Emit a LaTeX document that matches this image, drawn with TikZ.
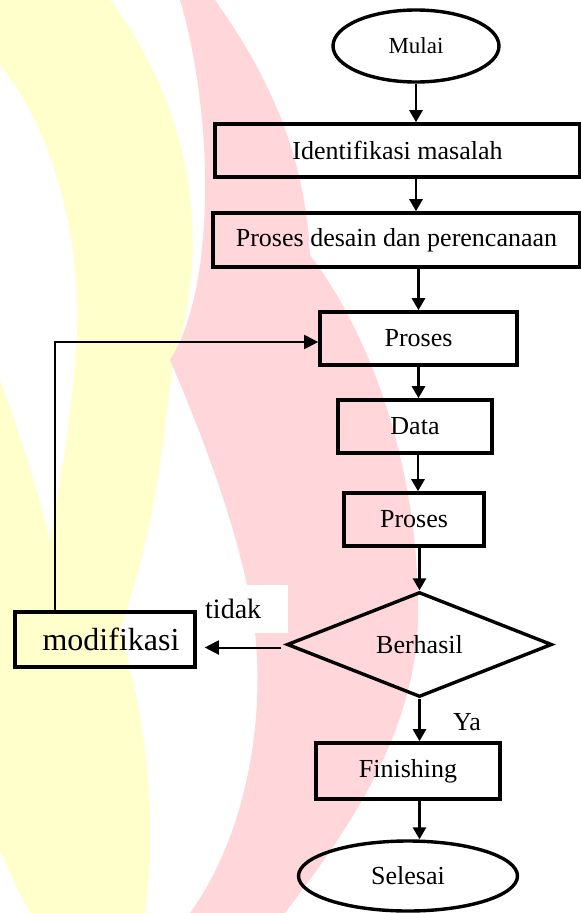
\documentclass[tikz,border=0pt]{standalone}
\usepackage{fontspec}
\setmainfont{Liberation Serif}
\usetikzlibrary{shapes.geometric,arrows.meta,calc}
\definecolor{wmpink}{RGB}{255,215,219}
\definecolor{wmyellow}{RGB}{255,255,204}
\begin{document}
\begin{tikzpicture}[x=1pt,y=-1pt,
  txt/.style={font=\fontsize{26}{30}\selectfont},
  box/.style={draw, rectangle, line width=3.6pt, inner sep=0pt, txt},
  term/.style={draw, ellipse, line width=3.4pt, inner sep=0pt, txt},
  decision/.style={draw, diamond, line width=3.4pt, inner sep=0pt, txt},
  arr/.style={line width=2.7pt, -{Triangle[width=13pt,length=12pt]}},
  thinarr/.style={line width=2pt, -{Triangle[width=14pt,length=14pt]}},
  thinline/.style={line width=2pt}]
\useasboundingbox (0,0) rectangle (581,913);
% watermark
\fill[wmyellow] (0,0) -- (110,0) .. controls (185,100) and (215,230) .. (175,355)
  .. controls (165,400) and (165,500) .. (120,630)
  .. controls (140,700) and (160,800) .. (145,913) -- (30,913)
  .. controls (15,885) .. (0,850) -- cycle;
\fill[white] (0,65) .. controls (60,140) and (85,260) .. (75,360)
  .. controls (70,430) and (58,490) .. (50,540)
  .. controls (35,480) and (15,420) .. (0,380) -- cycle;
\fill[wmpink] (180,0) -- (215,0) .. controls (265,70) and (305,150) .. (310,255)
  .. controls (360,320) and (420,450) .. (418,620)
  .. controls (415,740) and (340,840) .. (285,913) -- (190,913)
  .. controls (250,830) and (270,700) .. (250,600)
  .. controls (235,520) and (200,430) .. (170,360)
  .. controls (215,290) and (215,120) .. (180,0) -- cycle;
% nodes
\node[term, minimum width=166, minimum height=72, font=\fontsize{23}{27}\selectfont] (mulai) at (416,46) {Mulai};
\node[box, minimum width=365, minimum height=53] (ident) at (397.5,150.5) {Identifikasi masalah};
\node[box, minimum width=367, minimum height=54] (desain) at (396.5,240) {Proses desain dan perencanaan};
\node[box, minimum width=197, minimum height=53] (p1) at (418.5,338.5) {Proses};
\node[box, minimum width=154, minimum height=53] (data) at (415,426.5) {Data};
\node[box, minimum width=140, minimum height=53] (p2) at (414,519.5) {Proses};
\node[decision, minimum width=265, minimum height=95] (dia) at (419.5,644.5) {Berhasil};
\node[box, minimum width=180, minimum height=55, font=\fontsize{32}{36}\selectfont] (mod) at (105,639.5) {\hspace*{12pt}modifikasi};
\node[box, minimum width=184, minimum height=56] (fin) at (408,771) {Finishing};
\node[term, minimum width=219, minimum height=70] (sel) at (408,876) {Selesai};
\node[fill=white, anchor=north west, minimum width=83, minimum height=48, inner sep=0pt,
      text width=83, align=left, font=\fontsize{28}{32}\selectfont] (tidak) at (205,585) {tidak};
\node[txt] (ya) at (467,722) {Ya};
\coordinate (fb) at (55,342);
% connectors
\draw[arr] (mulai.south) -- (mulai.south |- ident.north);
\draw[arr] (mulai.south |- ident.south) -- (mulai.south |- desain.north);
\draw[arr] (p1.north |- desain.south) -- (p1.north);
\draw[arr] (p1.south) -- (p1.south |- data.north);
\draw[arr] (data.south) ++(3,0) -- ($(data.south |- p2.north)+(3,0)$);
\draw[arr] (dia.north |- p2.south) -- (dia.north);
\draw[arr] (dia.south) -- (dia.south |- fin.north);
\draw[arr] (dia.south |- fin.south) -- (dia.south |- sel.north);
\draw[thinarr] ($(dia.west)+(-4,3)$) -- ($(mod.east |- dia.west)+(8,3)$);
\draw[thinarr] (mod.north -| fb) -- (fb) -- (fb -| p1.west);
\end{tikzpicture}
\end{document}
